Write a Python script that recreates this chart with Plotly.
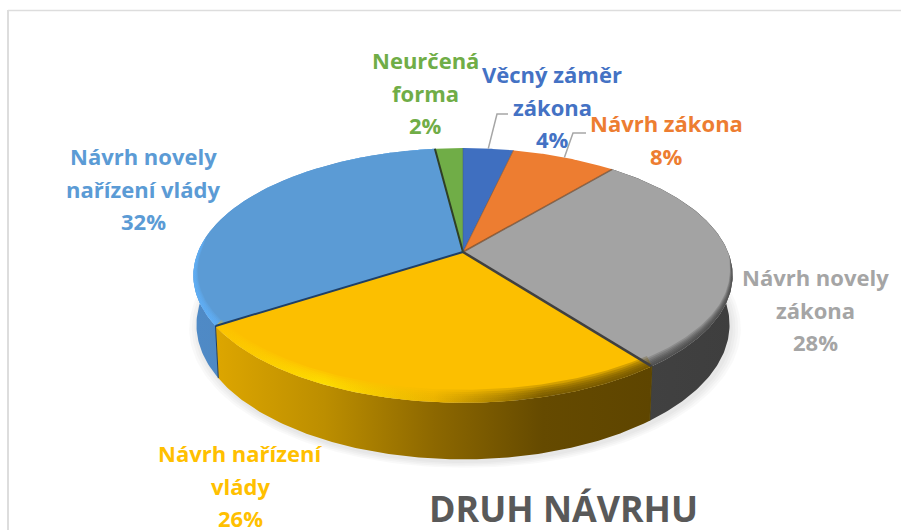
import numpy as np
import plotly.graph_objects as go

# Data
categories = [
    "Věcný záměr\nzákona",
    "Návrh zákona",
    "Návrh novely\nzákona",
    "Návrh nařízení\nvlády",
    "Návrh novely\nnařízení vlády",
    "Neurčená\nforma",
]
values = [3.6, 7.5, 28.49, 26.31, 32.1, 2.0]
chart_title = "DRUH NÁVRHU"

# Styles
face_colors = ["#3F6FC0", "#ED7D31", "#A3A3A3", "#FCBF00", "#5B9BD5", "#70AD47"]
text_colors = ["#4472C4", "#ED7D31", "#A5A5A5", "#FFC000", "#5B9BD5", "#70AD47"]
label_pos = [(552, 74), (666, 123), (815, 277), (240, 453), (143, 156), (425, 60)]
FONT = "Open Sans"
LABEL_SIZE = 22
LINE_STEP = 32.5

# Projection of the tilted disc into pixels
CX, CY = 463, 252
A, B, K = 265, 123, 0.184
A_LOW, B_LOW, DZ = 262, 130, 48


def rim(theta, low=False):
    u, v = np.sin(theta), np.cos(theta)
    d = 1 + K * v
    if low:
        return CX + A_LOW * u / d, CY + DZ - B_LOW * v / d
    return CX + A * u / d, CY - B * v / d


def gradient(stops):
    n = len(stops) - 1
    return dict(
        type="horizontal",
        colorscale=[[i / n, c] for i, c in enumerate(stops)],
    )


def poly(x, y, color=None, grad=None):
    trace = go.Scatter(
        x=x, y=y, mode="lines", line=dict(width=0), fill="toself",
        hoverinfo="skip", showlegend=False,
    )
    if grad:
        trace.fillgradient = gradient(grad)
    else:
        trace.fillcolor = color
    return trace


def line(x, y, color, width):
    return go.Scatter(
        x=x, y=y, mode="lines", line=dict(color=color, width=width),
        hoverinfo="skip", showlegend=False,
    )


edges = np.concatenate([[0], np.cumsum(values)]) / sum(values) * 2 * np.pi
arcs = [np.linspace(edges[i], edges[i + 1], 120) for i in range(len(values))]

fig = go.Figure()

# soft shadow under the pie
whole = np.linspace(0, 2 * np.pi, 240)
sx, sy = rim(whole, low=True)
for grow in [1.035, 1.025, 1.015, 1.005]:
    fig.add_trace(poly(
        CX + (sx - CX) * grow + 2,
        CY + DZ + (sy - CY - DZ) * grow + 3,
        "rgba(0,0,0,0.022)",
    ))

# side walls
side_styles = {
    2: ["#424242", "#3E3E3E"],
    3: ["#DDA600", "#BC8E00", "#8D6800", "#654A00", "#5E4500"],
    4: ["#4F8AC6", "#4C82B8"],
}
for i in [4, 2, 3]:
    xt, yt = rim(arcs[i])
    xb, yb = rim(arcs[i][::-1], low=True)
    fig.add_trace(poly(np.r_[xt, xb], np.r_[yt, yb], grad=side_styles[i]))

# top faces
for i, arc in enumerate(arcs):
    xt, yt = rim(arc)
    fig.add_trace(poly(np.r_[CX, xt, CX], np.r_[CY, yt, CY], face_colors[i]))

# bevel along the front rim: slice -> (colour stops, height where it starts)
band_styles = {
    2: (["rgba(50,50,50,0.2)", "rgba(50,50,50,0.2)"], -0.05),
    3: ([
        "rgba(252,196,0,0.2)", "rgba(255,228,0,0.22)",
        "rgba(230,176,0,0.22)", "rgba(100,74,0,0.26)", "rgba(95,70,0,0.26)",
    ], 0.25),
    4: (["rgba(96,176,248,0.28)", "rgba(96,176,248,0.28)"], 0.12),
}
for i, (stops, start) in band_styles.items():
    arc = arcs[i]
    xt, yt = rim(arc)
    u, v = np.sin(arc), np.cos(arc)
    taper = np.sqrt(np.clip((start - v) / 1.0, 0, 1))
    for width in [1.0, 0.83, 0.66, 0.5, 0.33, 0.16]:
        xi = xt - 8 * u * taper * width
        yi = yt + 13 * v * taper * width
        fig.add_trace(poly(np.r_[xt, xi[::-1]], np.r_[yt, yi[::-1]], grad=stops))

# dark seams between slices
seams = {1: ("rgba(120,70,30,0.6)", 1), 2: ("rgba(110,70,40,0.7)", 1.5),
         3: ("#404040", 2.5), 4: ("#1F3F66", 2), 5: ("#2F3F25", 2), 0: ("rgba(60,90,130,0.5)", 1)}
for i, (color, width) in seams.items():
    ex, ey = rim(edges[i])
    fig.add_trace(line([CX, ex], [CY, ey], color, width))
for i, color in [(3, "#5A4500"), (4, "#1F3F66")]:
    ex, ey = rim(edges[i])
    bx, by = rim(edges[i], low=True)
    fig.add_trace(line([ex, bx], [ey, by], color, 1))

# leader lines from the middle of the two small slices
for i, knee, end in [(0, (497, 114), (508, 114)), (1, (573, 133), (586, 133))]:
    mx, my = rim((edges[i] + edges[i + 1]) / 2)
    fig.add_trace(line([mx, knee[0], end[0]], [my, knee[1], end[1]], "#A6A6A6", 1.5))

# labels, one annotation per line to hold the line pitch
for name, val, color, (lx, ly) in zip(categories, values, text_colors, label_pos):
    rows = name.split("\n") + [f"{round(val)}%"]
    for n, row in enumerate(rows):
        fig.add_annotation(
            x=lx, y=ly + n * LINE_STEP, text=f"<b>{row}</b>", showarrow=False,
            xanchor="center", yanchor="middle",
            font=dict(family=FONT, size=LABEL_SIZE, color=color),
        )

fig.add_annotation(
    x=563, y=508, text=f"<b>{chart_title}</b>", showarrow=False,
    xanchor="center", yanchor="middle",
    font=dict(family=FONT, size=35.8, color="#595959"),
)

# frame left and top
fig.add_shape(type="line", x0=8, x1=8, y0=10, y1=530, line=dict(color="#DDDDDD", width=2))
fig.add_shape(type="line", x0=8, x1=901, y0=10.5, y1=10.5, line=dict(color="#DDDDDD", width=1.5))

fig.update_xaxes(visible=False, range=[0, 901], fixedrange=True)
fig.update_yaxes(visible=False, range=[530, 0], fixedrange=True)
fig.update_layout(
    width=901,
    height=530,
    margin=dict(l=0, r=0, t=0, b=0),
    paper_bgcolor="white",
    plot_bgcolor="white",
    showlegend=False,
)

fig.write_html(
    "out.html",
    config=dict(displayModeBar=False),
    post_script="document.body.style.margin='0';document.body.style.overflow='hidden';",
)
